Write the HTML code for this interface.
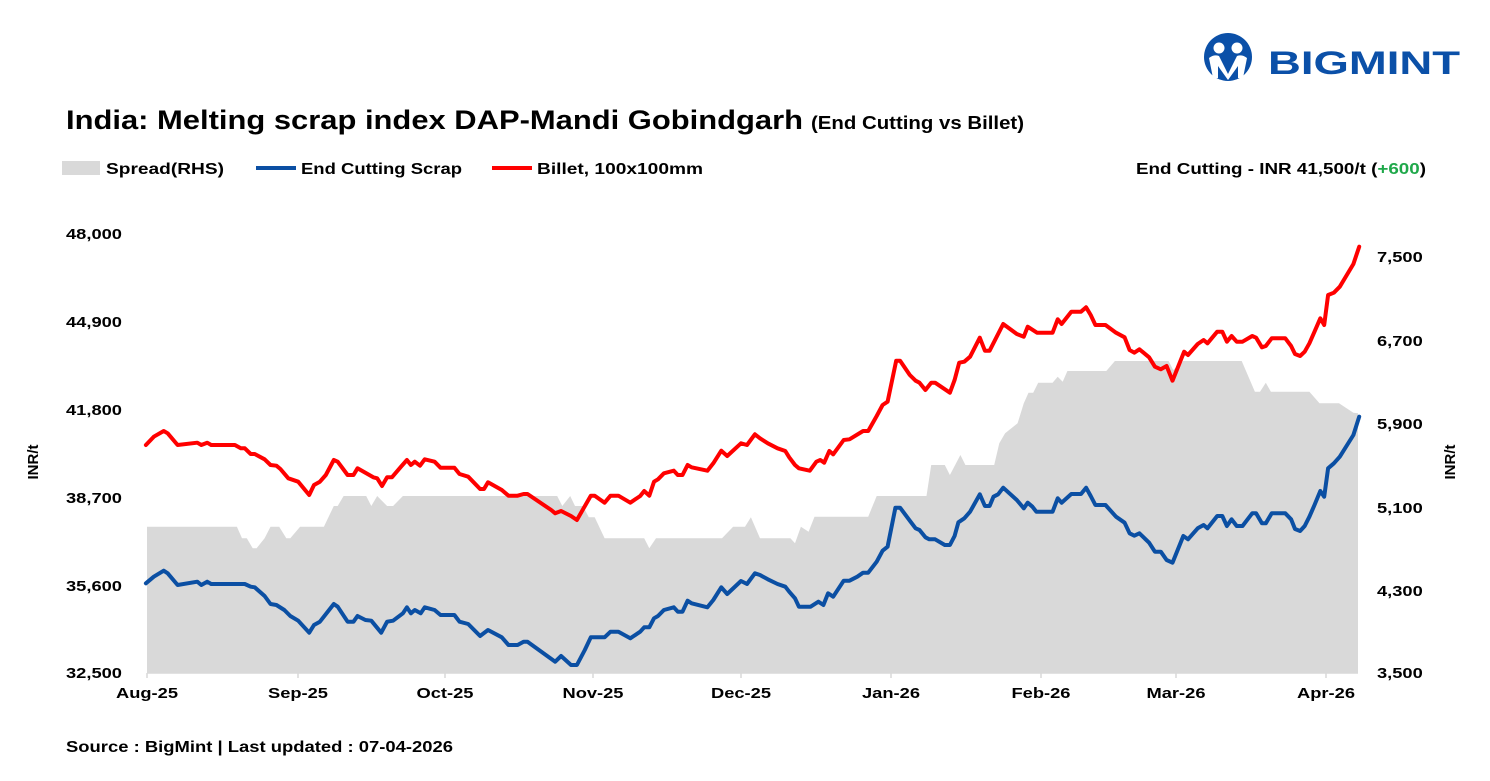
<!DOCTYPE html>
<html><head><meta charset="utf-8"><style>
body{margin:0;background:#fff;width:1490px;height:776px;overflow:hidden;font-family:"Liberation Sans",Arial,sans-serif;}
</style></head><body>
<svg id="s" width="1490" height="776" xmlns="http://www.w3.org/2000/svg" font-family="Liberation Sans, Arial, sans-serif">
<g id="logo">
<circle cx="1228" cy="57" r="24" fill="#0b50a8"/>
<circle cx="1219" cy="48" r="5.5" fill="#fff"/>
<circle cx="1237" cy="48" r="5.5" fill="#fff"/>
<path d="M1209 58 Q1214 54 1219 56 L1228 74 L1237 56 Q1242 54 1247 58 L1243 78 L1238 78 L1238 66 L1228 80 L1218 66 L1218 78 L1213 78 Z" fill="#fff"/>
<text x="1268" y="74" font-size="32" font-weight="bold" fill="#0b50a8" textLength="192" lengthAdjust="spacingAndGlyphs">BIGMINT</text>
</g>
<text x="66" y="129" font-size="27" font-weight="bold" textLength="737" lengthAdjust="spacingAndGlyphs">India: Melting scrap index DAP-Mandi Gobindgarh</text>
<text x="811" y="129" font-size="18" font-weight="bold" textLength="213" lengthAdjust="spacingAndGlyphs">(End Cutting vs Billet)</text>
<rect x="62" y="161" width="38" height="14" fill="#d9d9d9"/>
<text x="106" y="174" font-size="16" font-weight="bold" textLength="118" lengthAdjust="spacingAndGlyphs">Spread(RHS)</text>
<line x1="256" y1="168" x2="296" y2="168" stroke="#0b4fa3" stroke-width="4"/>
<text x="301" y="174" font-size="16" font-weight="bold" textLength="161" lengthAdjust="spacingAndGlyphs">End Cutting Scrap</text>
<line x1="492" y1="168" x2="532" y2="168" stroke="#f00" stroke-width="4"/>
<text x="537" y="174" font-size="16" font-weight="bold" textLength="166" lengthAdjust="spacingAndGlyphs">Billet, 100x100mm</text>
<text x="1136" y="174" font-size="16" font-weight="bold" textLength="290" lengthAdjust="spacingAndGlyphs">End Cutting - INR 41,500/t (<tspan fill="#1fa84a">+600</tspan>)</text>
<g id="area"></g>
<g id="lines"></g>
<line x1="147" y1="673" x2="1358" y2="673" stroke="#d9d9d9" stroke-width="1.5"/>
<g id="ticks" stroke="#d9d9d9" stroke-width="1.5"></g>
<g font-size="15" font-weight="bold">
<text class="sc" x="66" y="239">48,000</text><text class="sc" x="66" y="327">44,900</text><text class="sc" x="66" y="415">41,800</text>
<text class="sc" x="66" y="503">38,700</text><text class="sc" x="66" y="591">35,600</text><text class="sc" x="66" y="678">32,500</text>
</g>
<g font-size="15" font-weight="bold">
<text class="sc" x="1377" y="262">7,500</text><text class="sc" x="1377" y="346">6,700</text><text class="sc" x="1377" y="429">5,900</text>
<text class="sc" x="1377" y="513">5,100</text><text class="sc" x="1377" y="596">4,300</text><text class="sc" x="1377" y="678">3,500</text>
</g>
<g font-size="15" font-weight="bold" text-anchor="middle">
<text class="sc" x="147" y="698">Aug-25</text><text class="sc" x="298" y="698">Sep-25</text><text class="sc" x="445" y="698">Oct-25</text>
<text class="sc" x="593" y="698">Nov-25</text><text class="sc" x="741" y="698">Dec-25</text><text class="sc" x="891" y="698">Jan-26</text>
<text class="sc" x="1041" y="698">Feb-26</text><text class="sc" x="1176" y="698">Mar-26</text><text class="sc" x="1326" y="698">Apr-26</text>
</g>
<text transform="translate(38,462) rotate(-90)" font-size="15" font-weight="bold" text-anchor="middle">INR/t</text>
<text transform="translate(1455,462) rotate(-90)" font-size="15" font-weight="bold" text-anchor="middle">INR/t</text>
<text x="66" y="752" font-size="16" font-weight="bold" textLength="387" lengthAdjust="spacingAndGlyphs">Source : BigMint | Last updated : 07-04-2026</text>
</svg>
<script>
function L(a){var r=[];for(var i=0;i<a.length;i+=2)r.push([a[i]/2.529+140,a[i+1]/3+230]);return r;}
function R(a){var r=[];for(var i=0;i<a.length;i+=2)r.push([a[i]/2.57+760,a[i+1]/3+230]);return r;}
var bL=[15,1060,35,1040,60,1022,70,1030,95,1065,145,1055,155,1065,170,1055,180,1062,265,1062,280,1070,290,1072,315,1098,330,1122,345,1125,365,1140,380,1158,400,1172,428,1208,440,1185,455,1175,490,1122,500,1130,525,1175,540,1175,550,1158,570,1170,585,1172,610,1208,625,1175,640,1172,665,1150,675,1132,685,1150,695,1140,710,1150,720,1132,745,1140,760,1155,795,1155,808,1175,830,1182,860,1218,880,1200,915,1222,932,1245,955,1245,970,1235,980,1235,1050,1295,1065,1278,1090,1305,1105,1305,1125,1260,1140,1222,1175,1222,1190,1205,1210,1205,1240,1225,1265,1205,1275,1192,1288,1192,1300,1165,1310,1158,1325,1140,1350,1132,1360,1145,1372,1145,1385,1112,1395,1120,1435,1132,1450,1110,1470,1072,1485,1092,1520,1053,1535,1062,1555,1030];
var bR=[0,1035,20,1048,45,1062,65,1070,75,1085,90,1105,100,1130,130,1130,150,1115,163,1125,175,1090,188,1100,215,1052,230,1052,250,1040,265,1028,278,1028,300,995,315,962,328,950,348,833,360,833,385,872,400,895,410,900,425,922,435,928,450,928,475,945,488,945,500,918,510,877,525,865,540,845,565,793,578,828,590,828,600,800,612,793,625,773,660,810,678,835,688,818,700,830,710,845,752,845,765,805,775,818,800,792,825,792,838,773,850,798,862,825,888,825,915,860,937,878,950,910,962,917,975,910,1000,938,1015,965,1030,965,1045,990,1060,998,1088,918,1100,928,1125,895,1140,885,1150,895,1175,858,1188,858,1200,888,1212,868,1225,888,1240,888,1265,850,1275,850,1290,880,1300,880,1315,850,1350,850,1365,868,1375,897,1388,903,1400,888,1412,860,1425,825,1440,783,1450,800,1460,715,1475,700,1490,680,1525,615,1540,560];
var rL=[15,645,35,620,60,603,70,610,95,645,145,638,155,645,170,638,180,645,240,645,255,655,265,655,280,672,290,672,315,688,330,705,345,707,355,717,375,745,400,755,428,795,440,765,455,755,470,735,490,690,500,695,525,735,540,735,550,715,590,742,600,745,612,768,625,742,637,742,660,710,675,690,685,705,695,695,708,707,720,688,745,695,760,713,795,713,808,732,830,740,860,777,870,777,880,757,915,780,932,797,955,797,970,792,980,792,1040,840,1050,850,1065,843,1090,858,1105,870,1140,797,1150,797,1175,818,1190,797,1210,797,1240,818,1265,798,1275,783,1288,797,1300,755,1310,748,1325,730,1350,722,1360,735,1372,735,1385,705,1395,712,1435,722,1450,700,1470,662,1485,678,1520,640,1535,645,1555,613];
var rR=[0,625,20,640,45,655,65,663,75,682,90,705,100,715,128,722,145,695,155,690,165,698,178,663,188,673,215,630,230,628,265,603,278,603,300,558,315,525,328,515,350,392,360,392,385,435,400,452,410,458,425,480,440,458,450,458,488,488,500,450,512,398,525,395,540,380,565,323,578,362,590,362,625,282,660,312,678,320,688,290,712,308,752,308,765,268,775,282,800,245,825,245,838,232,850,255,862,285,888,285,915,308,937,322,950,360,962,368,975,358,1000,382,1015,410,1030,418,1045,408,1060,452,1090,365,1100,375,1125,342,1140,330,1150,340,1175,305,1188,305,1200,335,1212,318,1225,335,1240,335,1265,318,1275,323,1290,352,1300,348,1315,325,1350,325,1365,348,1375,372,1388,378,1400,365,1412,340,1425,305,1440,265,1450,285,1460,195,1475,188,1490,170,1525,102,1540,50];
var sL=[15,890,245,890,258,925,270,925,285,955,295,955,315,925,330,890,352,890,370,925,380,925,405,890,465,890,490,828,500,828,515,798,572,798,585,828,600,798,625,828,640,828,665,798,1055,798,1068,828,1088,798,1100,828,1120,828,1135,862,1150,862,1175,925,1275,925,1288,955,1305,925,1472,925,1500,890,1530,890,1545,862];
var sR=[0,925,78,925,90,940,105,890,125,905,140,860,278,860,300,798,428,798,440,705,475,705,488,735,515,675,528,705,602,705,615,640,630,610,662,580,678,520,690,488,702,488,715,458,752,458,765,440,778,455,790,423,890,423,912,393,1050,393,1062,420,1088,393,1238,393,1272,485,1285,485,1300,458,1313,485,1412,485,1438,520,1488,520,1525,548,1540,550];
function P(p){return p.map(function(q){return q[0].toFixed(1)+','+q[1].toFixed(1)}).join(' ');}
var blue=L(bL).concat(R(bR)),red=L(rL).concat(R(rR));
var sp=L(sL).concat(R(sR));sp[0][0]=147;sp[sp.length-1][0]=1358;
var ns='http://www.w3.org/2000/svg';
var a=document.createElementNS(ns,'polygon');
a.setAttribute('points','147,673 '+P(sp)+' 1358,673');a.setAttribute('fill','#d9d9d9');
document.getElementById('area').appendChild(a);
[[red,'#ff0000'],[blue,'#0b4fa3']].forEach(function(x){var l=document.createElementNS(ns,'polyline');l.setAttribute('points',P(x[0]));l.setAttribute('fill','none');l.setAttribute('stroke',x[1]);l.setAttribute('stroke-width','4');l.setAttribute('stroke-linejoin','round');l.setAttribute('stroke-linecap','round');document.getElementById('lines').appendChild(l);});
[147,298,445,593,741,891,1041,1176,1326].forEach(function(x){var t=document.createElementNS(ns,'line');t.setAttribute('x1',x);t.setAttribute('x2',x);t.setAttribute('y1',673);t.setAttribute('y2',678);document.getElementById('ticks').appendChild(t);});
Array.prototype.forEach.call(document.querySelectorAll('text.sc'),function(t){var w=t.getComputedTextLength();t.setAttribute('textLength',(w*1.22).toFixed(1));t.setAttribute('lengthAdjust','spacingAndGlyphs');});
</script>
</body></html>
